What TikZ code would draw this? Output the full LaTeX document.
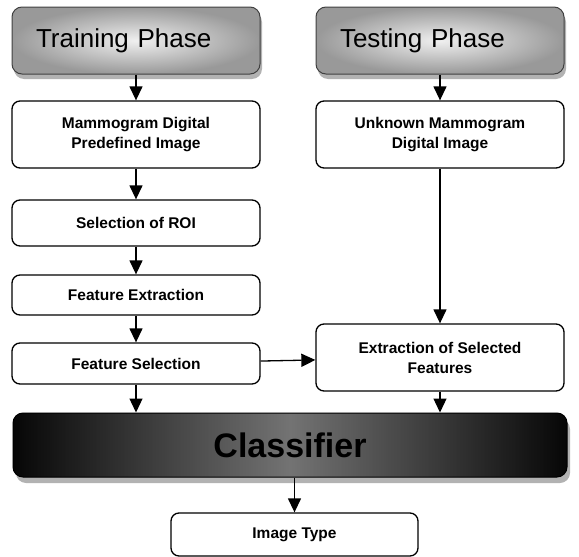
\documentclass[tikz,border=0pt]{standalone}
\usepackage{fontspec}
\setmainfont{Liberation Sans}
\usetikzlibrary{arrows.meta,fadings}

\tikzfading[name=fade mid, top color=transparent!0, middle color=transparent!100, bottom color=transparent!0]

\tikzset{
  boxshadow/.style={preaction={fill=gray!60, transform canvas={shift={(#1)}}}},
  phase/.style={draw=gray!50!black, line width=1pt, rounded corners=10pt,
    minimum width=248pt, minimum height=67pt, inner sep=0pt,
    boxshadow={2pt,-5pt},
    inner color=gray!12, outer color=gray!80,
    text width=200pt, align=left, font=\fontsize{26}{30}\selectfont},
  stage/.style={draw, line width=1.3pt, rounded corners=8pt,
    minimum width=248pt, inner sep=0pt, align=center,
    font=\bfseries\fontsize{15.5}{20}\selectfont},
  classbox/.style={draw=black, line width=1pt, rounded corners=10pt,
    minimum width=554pt, minimum height=64pt, inner sep=0pt,
    boxshadow={3pt,-6pt},
    left color=black!95, right color=black!95, middle color=gray!35,
    postaction={fill=black, path fading=fade mid, fit fading=true, fill opacity=0.45},
    font=\bfseries\fontsize{34}{40}\selectfont},
  arr/.style={line width=1.3pt, -{Triangle[length=14pt,width=13pt]}}
}

\begin{document}
\begin{tikzpicture}[x=1pt, y=-1pt]
 \useasboundingbox (0,0) rectangle (579,557);

 % training side
 \node[phase] (TP) at (136,40.5) {Training Phase};
 \node[stage, minimum height=67pt, below of=TP, node distance=94pt] (MD) {Mammogram Digital\\Predefined Image};
 \node[stage, minimum height=46pt, below of=MD, node distance=88.5pt] (ROI) {Selection of ROI};
 \node[stage, minimum height=40pt, below of=ROI, node distance=72pt] (FE) {Feature Extraction};
 \node[stage, minimum height=41pt, below of=FE, node distance=68.5pt] (FS) {Feature Selection};

 % testing side
 \node[phase, right of=TP, node distance=304pt] (TS) {Testing Phase};
 \node[stage, minimum height=67pt, below of=TS, node distance=94pt] (UM) {Unknown Mammogram\\Digital Image};
 \node[stage, minimum height=67pt, below of=UM, node distance=223pt] (ES) {Extraction of Selected\\Features};

 \node[classbox] (CL) at (290,445) {Classifier};
 \node[stage, minimum width=247pt, minimum height=43pt] (IT) at (294.5,534.5) {Image Type};

 \draw[arr] (TP) -- (MD);
 \draw[arr] (MD) -- (ROI);
 \draw[arr] (ROI) -- (FE);
 \draw[arr] (FE) -- (FS);
 \draw[arr] (TS) -- (UM);
 \draw[arr] (UM) -- (ES);
 \draw[arr] (FS) -- (ES);
 \draw[arr] (FS) -- (FS |- CL.north);
 \draw[arr] (ES) -- (ES |- CL.north);
 \draw[arr] (CL.south -| IT) -- (IT);
\end{tikzpicture}
\end{document}
